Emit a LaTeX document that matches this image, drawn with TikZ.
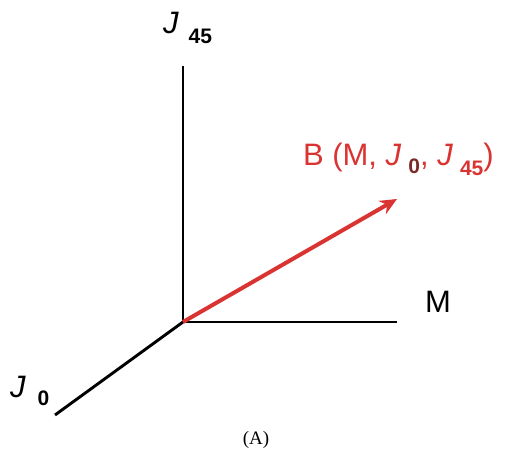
\documentclass[tikz,border=0pt]{standalone}
\usepackage{fontspec}
\setmainfont{Liberation Sans}
\newfontfamily\capserif{Liberation Serif}
\usetikzlibrary{arrows.meta}
\definecolor{vecred}{RGB}{218,52,50}
\definecolor{subdark}{RGB}{120,45,42}
\newcommand\subfnt{\fontsize{21}{21}\selectfont\bfseries}
\newcommand\Jlab[3]{\textit{J}\hspace{#1}\raisebox{#2}{\subfnt #3}}
\begin{document}
\begin{tikzpicture}[x=1pt,y=-1pt,
  axis/.style={line width=2.9pt,black},
  vec/.style={line width=4pt,vecred,-{Stealth[length=17pt,width=15pt]}},
  lab/.style={inner sep=0pt,outer sep=0pt,font=\fontsize{31}{31}\selectfont,anchor=base west}]
\useasboundingbox (0,0) rectangle (507,455);
\coordinate (O) at (183,322);
\coordinate (Z) at (183,66);
\coordinate (X) at (397,322);
\coordinate (Y) at (55,415);
\coordinate (B) at (397,199);
\draw[axis] (O) -- (Z);
\draw[axis] (O) -- (X);
\draw[axis] (O) -- (Y);
\draw[vec] (O) -- (B);
\node[lab] (lz) at (163,33) {\Jlab{10pt}{-10pt}{45}};
\node[lab] (lx) at (425,312) {M};
\node[lab] (ly) at (10,397) {\Jlab{12pt}{-8pt}{0}};
\node[lab,text=vecred] (lb) at (303,165) {B (M, \Jlab{7pt}{-8pt}{\textcolor{subdark}{0}}, \Jlab{7pt}{-10pt}{45})};
\node[inner sep=0pt,anchor=base,font=\capserif\fontsize{19}{19}\selectfont] (cap) at (256,444) {(A)};
\end{tikzpicture}
\end{document}
